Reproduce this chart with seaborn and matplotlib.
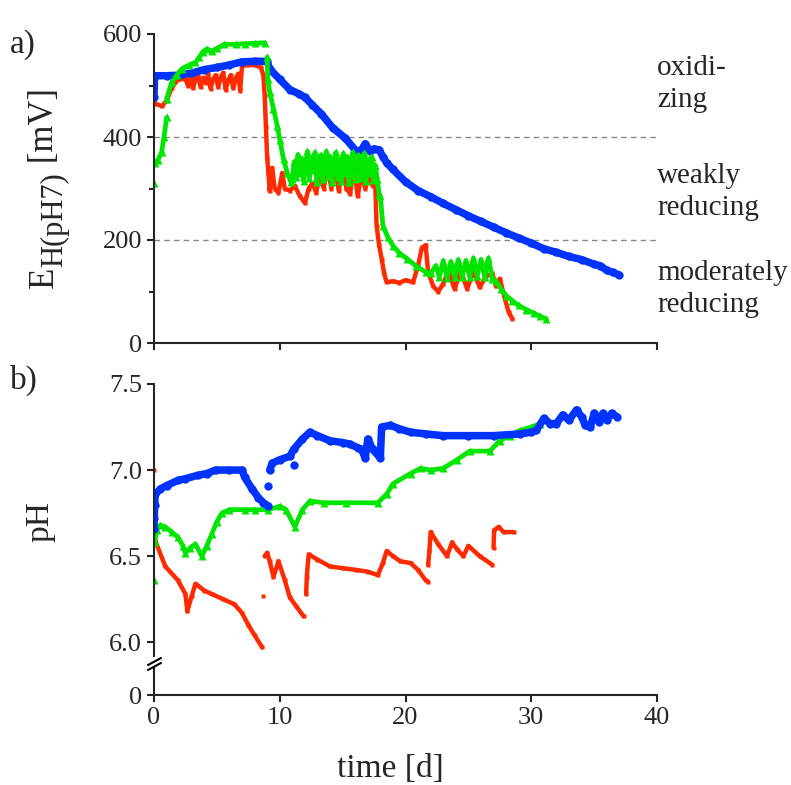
import numpy as np
import pandas as pd
import matplotlib
matplotlib.use("Agg")
import matplotlib.pyplot as plt
from matplotlib.lines import Line2D
import seaborn as sns

# ---------------- data (time [d], value); None = gap ----------------
blue_eh = [(0.0, 478), (0.05, 519), (1, 519), (2, 520), (3, 524), (4, 531), (5, 535), (6, 540),
           (7, 546), (8, 547), (9.0, 547), (9.2, 532), (10, 512), (10.8, 492), (11.5, 484),
           (12, 477), (12.6, 462), (13.3, 445), (14.2, 418), (15.2, 398), (16.1, 372), (16.5, 375),
           (16.8, 387), (17.2, 372), (17.5, 377), (17.9, 375), (18.2, 362), (18.5, 350), (19, 337),
           (20, 313), (21, 296), (22, 284), (23, 271), (24, 259), (25, 247), (26, 236), (27, 225),
           (28, 214), (29, 204), (30, 194), (31, 183), (32, 176), (33, 168), (34, 162), (35, 153),
           (35.5, 150), (36, 141), (36.5, 137), (37, 132)]

red_eh = [(0.0, 470), (0.1, 465), (0.6, 460), (1.0, 470), (1.4, 495), (1.7, 506), (2.0, 512),
          (2.5, 513), (2.7, 500), (2.9, 518), (3.1, 495), (3.3, 512), (3.5, 520), (3.7, 497),
          (3.9, 515), (4.1, 505), (4.3, 522), (4.5, 494), (4.7, 512), (4.9, 520), (5.1, 497),
          (5.3, 515), (5.5, 525), (5.7, 492), (5.9, 510), (6.1, 520), (6.3, 495), (6.5, 514),
          (6.7, 523), (6.85, 490), (7.0, 538), (7.5, 540), (8.0, 540), (8.5, 535), (8.7, 520),
          (8.8, 480), (8.9, 420), (9.0, 360), (9.1, 331), (9.2, 295), (9.4, 340), (9.6, 300),
          (9.9, 292), (10.2, 330), (10.4, 300), (10.8, 296), (11.2, 305), (11.6, 285), (12.0, 272),
          (12.3, 300), (12.6, 310), (12.9, 292), (13.2, 330), (13.5, 300), (13.8, 345), (14.1, 300),
          (14.4, 340), (14.7, 295), (15.0, 350), (15.3, 300), (15.6, 290), (15.9, 345), (16.2, 285),
          (16.5, 330), (16.8, 300), (17.1, 325), (17.4, 305), (17.6, 306), (17.7, 228), (17.9, 190),
          (18.1, 164), (18.3, 135), (18.5, 118), (19, 120), (19.5, 117), (20, 122), (20.6, 118),
          (21.0, 150), (21.3, 185), (21.6, 190), (21.8, 138), (22.2, 110), (22.6, 100), (23.0, 115),
          (23.4, 140), (23.9, 105), (24.4, 140), (24.9, 105), (25.4, 140), (25.9, 108), (26.4, 130),
          (26.9, 135), (27.2, 110), (27.5, 125), (27.9, 86), (28.2, 60), (28.5, 47)]

green_eh = [(0.0, 310), None,
            (0.05, 350), (0.3, 355), (0.6, 370), (0.8, 400), (1.0, 438), None,
            (1.0, 474), (1.4, 506), (1.8, 520), (2.2, 532), (2.8, 540), (3.3, 545), (3.6, 555),
            (3.9, 566), (4.2, 571), (4.6, 567), (5.0, 572), (5.6, 580), (6.5, 580), (7.2, 581),
            (8.0, 582), (8.8, 583), None,
            (9.0, 555), (9.05, 513), (9.2, 487), (9.5, 455), (9.8, 422), (10.0, 395), (10.3, 357),
            (10.6, 330), (10.9, 312), (11.0, 318), (11.15, 352), (11.3, 322), (11.45, 366),
            (11.6, 330), (11.75, 358), (11.9, 315), (12.05, 345), (12.2, 372), (12.35, 320),
            (12.5, 360), (12.65, 335), (12.8, 370), (12.95, 312), (13.1, 350), (13.25, 365),
            (13.4, 318), (13.55, 340), (13.7, 372), (13.85, 325), (14.0, 362), (14.15, 312),
            (14.3, 348), (14.45, 370), (14.6, 322), (14.75, 356), (14.9, 315), (15.05, 368),
            (15.2, 330), (15.35, 362), (15.5, 312), (15.65, 345), (15.8, 370), (15.95, 318),
            (16.1, 352), (16.25, 365), (16.4, 320), (16.55, 340), (16.7, 368), (16.85, 314),
            (17.0, 355), (17.15, 330), (17.3, 362), (17.45, 316), (17.6, 345), (17.75, 318),
            (17.9, 290), (18.0, 286),
            (18.2, 228), (18.6, 205), (19.0, 189), (19.5, 175), (20.1, 164), (20.8, 150), (21.6, 138),
            (22.0, 135), (22.4, 150), (22.7, 128), (23.0, 160), (23.3, 127), (23.6, 158), (23.9, 128),
            (24.2, 162), (24.5, 128), (24.8, 160), (25.1, 128), (25.4, 165), (25.7, 130), (26.0, 162),
            (26.3, 128), (26.6, 165), (26.9, 125), (27.2, 120), (27.6, 105), (28.0, 92), (28.5, 82),
            (29.0, 73), (29.6, 65), (30.2, 58), (30.7, 52), (31.2, 47)]

blue_ph = [(0.0, 6.66), (0.02, 6.72), (0.05, 6.80), (0.1, 6.86), (0.5, 6.89), (1, 6.91), (1.9, 6.94),
           (2.5, 6.95), (3.5, 6.97), (4.2, 6.98), (4.9, 7.0), (6.0, 7.0), (7.0, 7.0), (7.2, 6.96),
           (7.8, 6.89), (8.3, 6.84), (8.7, 6.81), (9.1, 6.79), None,
           (9.1, 6.91), None,
           (9.2, 7.0), (9.4, 7.04), (10, 7.06), (10.8, 7.08), (11.1, 7.12), (11.8, 7.18), (12.4, 7.22),
           (13, 7.20), (14, 7.17), (15, 7.16), (15.6, 7.15), (16.2, 7.13), (16.5, 7.12), (16.8, 7.07),
           (17.0, 7.18), (17.4, 7.12), (18, 7.07), (18.1, 7.25), (18.8, 7.26), (19.5, 7.24),
           (20.4, 7.22), (21.6, 7.21), (23, 7.20), (25, 7.20), (27, 7.20), (29.1, 7.21), (30, 7.22),
           (30.4, 7.23), (31, 7.30), (31.5, 7.27), (32, 7.27), (32.5, 7.32), (33, 7.29), (33.6, 7.35),
           (34, 7.31), (34.3, 7.26), (34.7, 7.25), (35.0, 7.33), (35.4, 7.28), (35.7, 7.33),
           (36.0, 7.29), (36.4, 7.33), (36.8, 7.31), None,
           (11.1, 7.03)]

green_ph = [(0.0, 6.36), None,
            (0.05, 6.58), (0.2, 6.65), (0.5, 6.68), (0.9, 6.67), (1.4, 6.64), (1.9, 6.61), (2.3, 6.56),
            (2.5, 6.52), (2.9, 6.55), (3.3, 6.57), (3.8, 6.50), (4.2, 6.56), (4.6, 6.63), (5.0, 6.70),
            (5.4, 6.75), (6.0, 6.77), (7.2, 6.77), (8, 6.77), (9.1, 6.77), (10, 6.79), (10.5, 6.77),
            (11.2, 6.67), (11.8, 6.77), (12.4, 6.82), (13.5, 6.81), (15.3, 6.81), (17.8, 6.81),
            (18.5, 6.86), (19, 6.92), (20.4, 6.98), (21.2, 7.01), (22, 7.0), (23, 7.01), (24.1, 7.06),
            (25.1, 7.11), (26.7, 7.11), (27.5, 7.17), (28.3, 7.20), (29.1, 7.23), (30, 7.25),
            (30.7, 7.27)]

red_ph = [(0.0, 7.0), None,
          (0.05, 6.62), (0.1, 6.59), (0.9, 6.44), (1.9, 6.36), (2.5, 6.28), (2.65, 6.18), (3.0, 6.27),
          (3.3, 6.34), (4.0, 6.30), (4.6, 6.28), (5.5, 6.25), (6.4, 6.22), (7.0, 6.17), (7.5, 6.10),
          (8.0, 6.04), (8.6, 5.97), None,
          (8.7, 6.27), None,
          (8.8, 6.50), (9.0, 6.52), (9.2, 6.47), (9.5, 6.38), (9.9, 6.47), (10.4, 6.36), (10.8, 6.26),
          (11.3, 6.21), (11.9, 6.15), None,
          (12.1, 6.28), (12.15, 6.38), (12.3, 6.51), (13, 6.48), (14, 6.44), (15, 6.43), (16.1, 6.42),
          (17, 6.41), (17.8, 6.39), (18.2, 6.46), (18.5, 6.53), (19, 6.50), (19.6, 6.47), (20.4, 6.46),
          (21, 6.42), (21.6, 6.36), (21.8, 6.35), None,
          (21.8, 6.45), (21.9, 6.53), (22, 6.64), (22.6, 6.57), (23.3, 6.50), (23.7, 6.58),
          (24.1, 6.54), (24.6, 6.50), (25, 6.56), (25.9, 6.50), (26.9, 6.45), None,
          (27.0, 6.55), (27.05, 6.65), (27.4, 6.67), (27.8, 6.64), (28.6, 6.64)]

x_ticks = [0, 10, 20, 30, 40]
eh_ticks = [0, 200, 400, 600]
eh_minor = [100, 300, 500]
ph_ticks = [6.0, 6.5, 7.0, 7.5]
zone_lines = [400, 200]
zone_labels = ["oxidi-\nzing", "weakly\nreducing", "moderately\nreducing"]
zone_centers = [502, 294, 104]

RED, GREEN, BLUE = "#ff2a00", "#00e600", "#0033ff"


def frame(pairs):
    rows, seg = [], 0
    for p in pairs:
        if p is None:
            seg += 1
            continue
        rows.append((p[0], p[1], seg))
    return pd.DataFrame(rows, columns=["t", "v", "seg"])


sns.set_style("ticks")
plt.rcParams["font.family"] = ["Liberation Serif", "DejaVu Serif"]
plt.rcParams["axes.linewidth"] = 1.5

W, H = 791, 785
fig = plt.figure(figsize=(W / 100, H / 100), dpi=100)


def rect(x0, y0, x1, y1):
    return [x0 / W, 1 - y1 / H, (x1 - x0) / W, (y1 - y0) / H]


ax1 = fig.add_axes(rect(154, 34, 657, 343))
ax2 = fig.add_axes(rect(154, 384, 657, 656))
ax3 = fig.add_axes(rect(154, 668, 657, 695))

styles = {"red": dict(color=RED, lw=3.2, marker="s", ms=3.5),
          "blue": dict(color=BLUE, lw=5.4, marker="o", ms=6),
          "green": dict(color=GREEN, lw=3.4, marker="^", ms=5.5)}


def draw(ax, pairs, key):
    df = frame(pairs)
    sns.lineplot(data=df, x="t", y="v", units="seg", estimator=None, sort=False,
                 ax=ax, mec="none", legend=False, **styles[key])


draw(ax1, red_eh, "red")
draw(ax1, blue_eh, "blue")
draw(ax1, green_eh, "green")
draw(ax2, red_ph, "red")
draw(ax2, green_ph, "green")
draw(ax2, blue_ph, "blue")

for y in zone_lines:
    ax1.axhline(y, color="#888888", lw=1.0, ls=(0, (4, 3)), zorder=0)

tick_kw = dict(labelsize=19, width=1.5, length=5, direction="out")

ax1.set_xlim(0, 40)
ax1.set_ylim(0, 600)
ax1.set_xticks(x_ticks)
ax1.set_xticklabels([])
ax1.set_yticks(eh_ticks)
ax1.set_yticks(eh_minor, minor=True)
ax1.tick_params(which="major", **tick_kw)
ax1.tick_params(which="minor", width=1.5, length=3.5, direction="out")
sns.despine(ax=ax1)

ax2.set_xlim(0, 40)
ax2.set_ylim(5.92, 7.5)
ax2.set_yticks(ph_ticks)
ax2.set_yticklabels([f"{v:.1f}" for v in ph_ticks])
ax2.set_xticks([])
ax2.tick_params(which="major", **tick_kw)
sns.despine(ax=ax2, bottom=True)

ax3.set_xlim(0, 40)
ax3.set_ylim(0, 1)
ax3.set_yticks([0])
ax3.set_xticks(x_ticks)
ax3.tick_params(which="major", **tick_kw)
sns.despine(ax=ax3)
ax3.patch.set_alpha(0)

for ax in (ax1, ax2, ax3):
    ax.set_xlabel("")
    ax.set_ylabel("")

fig.text(390 / W, 1 - 769 / H, "time [d]", ha="center", va="center", fontsize=24)
fig.text(40 / W, 1 - 522 / H, "pH", rotation=90, ha="center", va="center", fontsize=24)
fig.text(10 / W, 1 - 45 / H, "a)", ha="left", va="center", fontsize=24)
fig.text(10 / W, 1 - 380 / H, "b)", ha="left", va="center", fontsize=24)

# y label of panel a: E with a large, lowered subscript, built from rotated pieces
renderer = fig.canvas.get_renderer()
pieces = [("E", 25, 0), ("H(pH7)", 22, 9), (" [mV]", 25, 0)]
texts = []
for s, size, drop in pieces:
    t = fig.text(0, 0, s, rotation=90, rotation_mode="anchor", ha="left", va="baseline",
                 fontsize=size)
    texts.append((t, drop, t.get_window_extent(renderer).height))
total = sum(h for _, _, h in texts)
y_px = 188 + total / 2          # bottom (start) of the label, in pixels from top
base_x = 53
for t, drop, h in texts:
    t.set_position(((base_x + drop) / W, 1 - y_px / H))
    y_px -= h

for lab, c in zip(zone_labels, zone_centers):
    ax1.text(1.0, c, lab, transform=ax1.get_yaxis_transform(), ha="left", va="center",
             fontsize=21, linespacing=1.3, clip_on=False)

# axis-break marks
for dy in (0, 5):
    fig.add_artist(Line2D([148 / W, 161 / W], [1 - (665 + dy) / H, 1 - (658 + dy) / H],
                          color="black", lw=1.5))

fig.savefig("out.png", dpi=100)
